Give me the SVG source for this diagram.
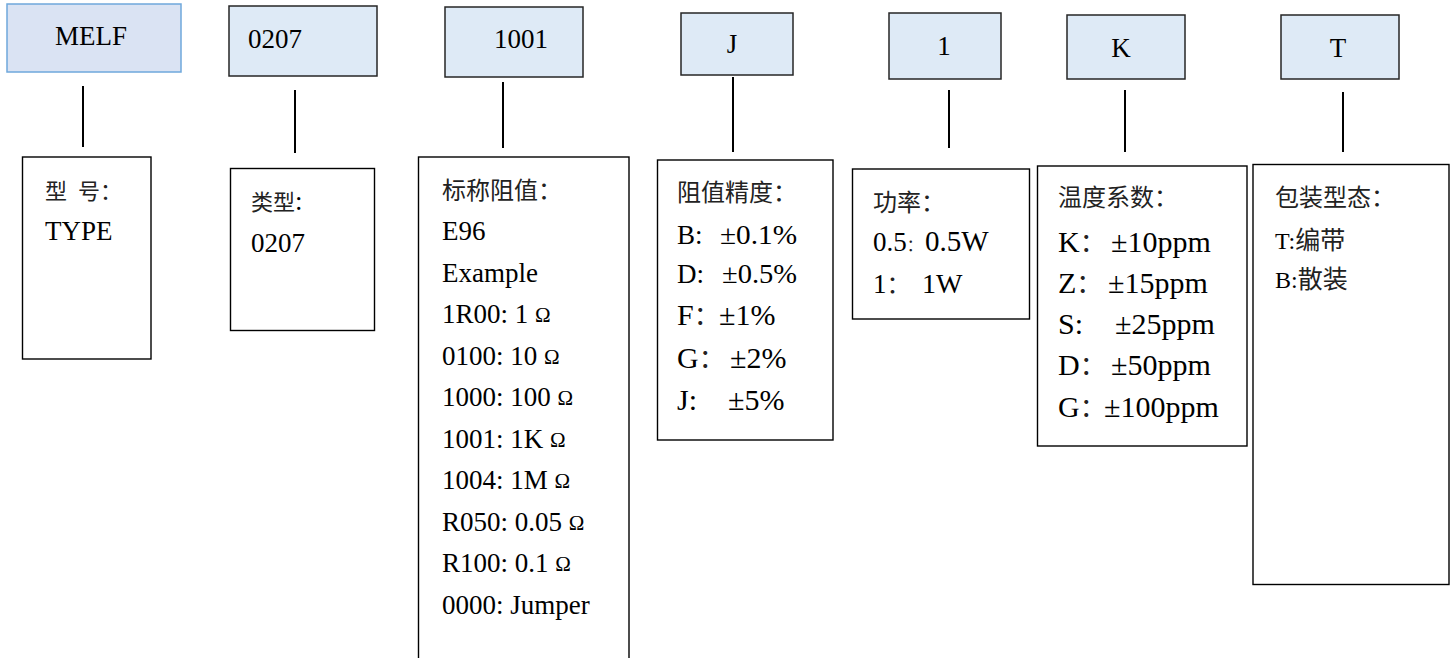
<svg xmlns="http://www.w3.org/2000/svg" width="1450" height="658" viewBox="0 0 1450 658">
<style>
.top{fill:#deeaf6;stroke:#262626;stroke-width:1.5}
.melf{fill:#dae3f3;stroke:#6fa8dc;stroke-width:1.5}
.box{fill:#fff;stroke:#000;stroke-width:1.4}
.conn line{stroke:#000;stroke-width:2}
text{font-family:"Liberation Serif","Noto Sans CJK SC",serif;font-size:27px;fill:#000}
.c{font-family:"Noto Sans CJK SC",sans-serif;font-size:23px;fill:#222}
.big{font-size:30px}
.om{font-size:21px}
.mid{text-anchor:middle}
</style>
<rect width="1450" height="658" fill="#fff"/>
<g id="connectors" class="conn">
<line x1="83" y1="86" x2="83" y2="147"/>
<line x1="295" y1="90" x2="295" y2="153"/>
<line x1="503" y1="82" x2="503" y2="148"/>
<line x1="733" y1="77" x2="733" y2="152"/>
<line x1="949" y1="90" x2="949" y2="148"/>
<line x1="1125" y1="90" x2="1125" y2="152"/>
<line x1="1343" y1="92" x2="1343" y2="152"/>
</g>
<g id="n-melf"><rect class="melf" x="7" y="4" width="174" height="68"/><text class="mid" x="91" y="45">MELF</text></g>
<g id="n-0207"><rect class="top" x="229" y="6" width="148" height="70"/><text x="248" y="48">0207</text></g>
<g id="n-1001"><rect class="top" x="445" y="7" width="138" height="70"/><text x="494" y="48">1001</text></g>
<g id="n-j"><rect class="top" x="681" y="13" width="112" height="62"/><text class="mid" x="732" y="53">J</text></g>
<g id="n-1"><rect class="top" x="889" y="13" width="112" height="66"/><text class="mid" x="944" y="55">1</text></g>
<g id="n-k"><rect class="top" x="1067" y="15" width="118" height="64"/><text class="mid" x="1121" y="57">K</text></g>
<g id="n-t"><rect class="top" x="1281" y="15" width="118" height="64"/><text class="mid" x="1338" y="57">T</text></g>

<g id="d-type"><rect class="box" x="22.5" y="157" width="128.5" height="202"/>
<text class="c" x="45" y="199" style="font-size:22px">型<tspan x="78">号：</tspan></text>
<text x="45" y="240">TYPE</text></g>

<g id="d-kind"><rect class="box" x="230.5" y="168.5" width="144" height="162"/>
<text x="251" y="210"><tspan class="c" style="font-size:22px">类型</tspan>:</text>
<text x="251" y="252">0207</text></g>

<g id="d-value"><rect class="box" x="418.5" y="157" width="210.5" height="520"/>
<text class="c" x="442" y="199" style="font-size:24px">标称阻值：</text>
<text x="442" y="240">E96</text>
<text x="442" y="281.5">Example</text>
<text x="442" y="323">1R00: 1 <tspan class="om" dy="-1">Ω</tspan></text>
<text x="442" y="364.5">0100: 10 <tspan class="om" dy="-1">Ω</tspan></text>
<text x="442" y="406">1000: 100 <tspan class="om" dy="-1">Ω</tspan></text>
<text x="442" y="447.5">1001: 1K <tspan class="om" dy="-1">Ω</tspan></text>
<text x="442" y="489">1004: 1M <tspan class="om" dy="-1">Ω</tspan></text>
<text x="442" y="530.5">R050: 0.05 <tspan class="om" dy="-1">Ω</tspan></text>
<text x="442" y="572">R100: 0.1 <tspan class="om" dy="-1">Ω</tspan></text>
<text x="442" y="613.5">0000: Jumper</text></g>

<g id="d-tol"><rect class="box" x="657.5" y="160" width="175.5" height="280"/>
<text class="c" x="677" y="201" style="font-size:24px">阻值精度：</text>
<text x="677" y="243.5">B:</text><text x="720" y="243.5" textLength="77" lengthAdjust="spacingAndGlyphs">±0.1%</text>
<text x="677" y="282.5">D:</text><text x="722" y="282.5" textLength="75" lengthAdjust="spacingAndGlyphs">±0.5%</text>
<text class="big" x="677" y="325">F<tspan class="c" style="font-size:26px">：</tspan></text><text class="big" x="719" y="325">±1%</text>
<text class="big" x="677" y="368">G<tspan class="c" style="font-size:26px">：</tspan></text><text class="big" x="730" y="368">±2%</text>
<text class="big" x="677" y="410">J:</text><text class="big" x="728" y="410">±5%</text></g>

<g id="d-power"><rect class="box" x="852.5" y="169" width="177" height="150"/>
<text class="c" x="873" y="211" style="font-size:24px">功率：</text>
<text x="873" y="251">0.5<tspan class="c" style="font-size:16px">：</tspan><tspan x="925" style="font-size:29px">0.5W</tspan></text>
<text x="873" y="293">1<tspan class="c" style="font-size:24px">：</tspan><tspan x="922" style="font-size:28px">1W</tspan></text></g>

<g id="d-tcr"><rect class="box" x="1037.5" y="166" width="209.5" height="280"/>
<text class="c" x="1058" y="206" style="font-size:24px">温度系数：</text>
<text class="big" x="1058" y="252">K<tspan class="c" style="font-size:26px">：</tspan></text><text class="big" x="1111" y="252">±10ppm</text>
<text class="big" x="1058" y="293">Z<tspan class="c" style="font-size:26px">：</tspan></text><text class="big" x="1108" y="293">±15ppm</text>
<text class="big" x="1058" y="334">S:</text><text class="big" x="1115" y="334">±25ppm</text>
<text class="big" x="1058" y="375">D<tspan class="c" style="font-size:26px">：</tspan></text><text class="big" x="1111" y="375">±50ppm</text>
<text class="big" x="1058" y="417">G<tspan class="c" style="font-size:26px">：</tspan></text><text class="big" x="1104" y="417">±100ppm</text></g>

<g id="d-pack"><rect class="box" x="1253" y="164.5" width="196" height="420"/>
<text class="c" x="1275" y="206" style="font-size:24px">包装型态：</text>
<text x="1275" y="249" style="font-size:24px">T:<tspan class="c" style="font-size:25px">编带</tspan></text>
<text x="1275" y="288" style="font-size:24px">B:<tspan class="c" style="font-size:25px">散装</tspan></text></g>
</svg>
